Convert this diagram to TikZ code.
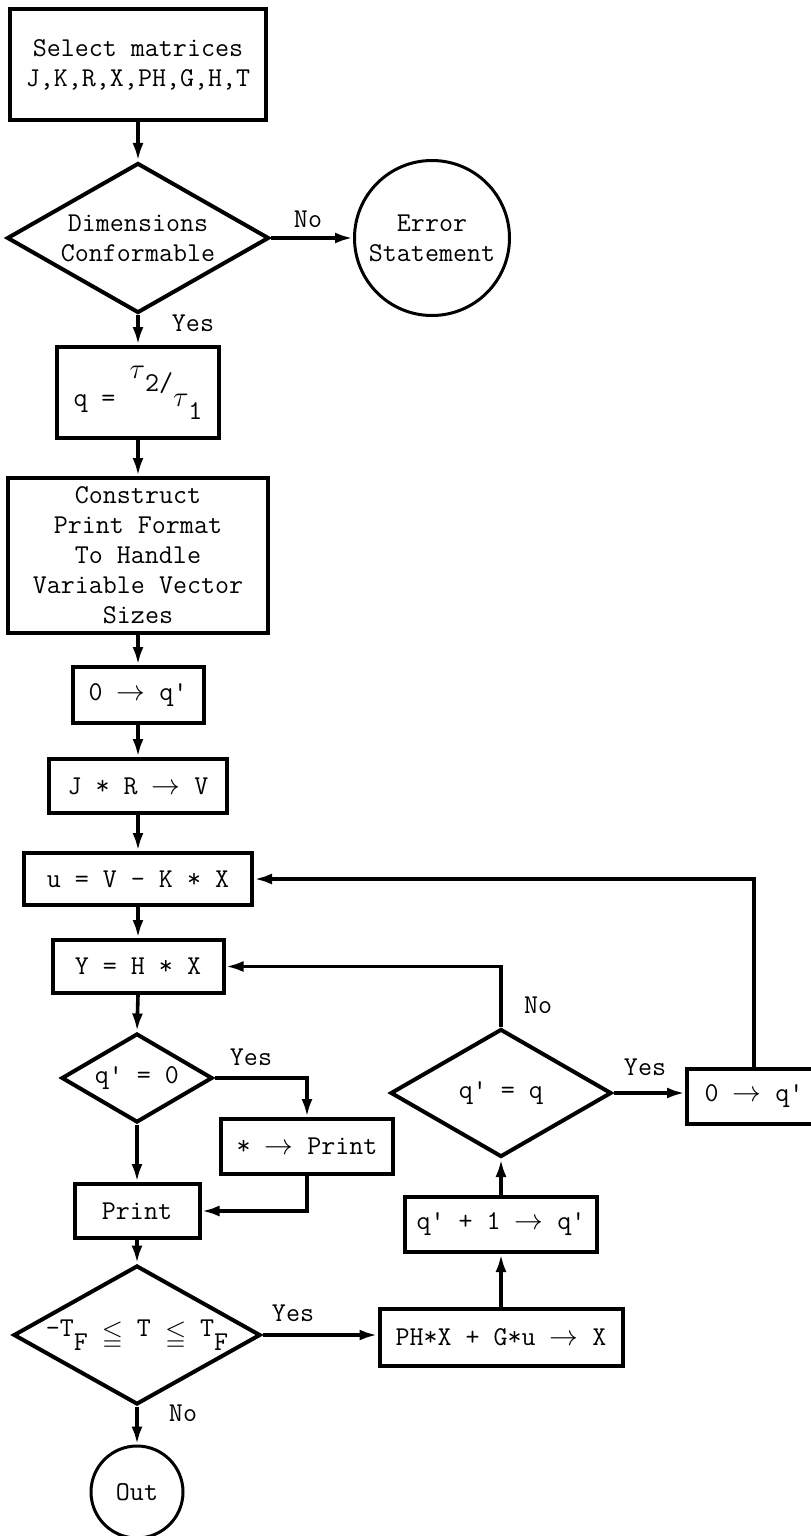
\documentclass[tikz,border=0pt]{standalone}
\usepackage{amsmath}
\usepackage{amssymb}
\usepackage{fontspec}
\usetikzlibrary{shapes.geometric,arrows.meta}

\newcommand{\Tick}{\textquotesingle}

\begin{document}
\begin{tikzpicture}[
        x=0.5pt, y=-0.5pt,
        font=\ttfamily\fontsize{13.6pt}{15pt}\selectfont,
        box/.style={draw, line width=2pt, inner sep=2pt, align=center},
        decision/.style={draw, diamond, line width=2pt, inner sep=0pt, align=center},
        terminal/.style={draw, circle, line width=1.5pt, inner sep=0pt, align=center},
        flow/.style={line width=1.8pt, -{Latex[length=9pt,width=5.5pt]}},
    ]
        \useasboundingbox (0, 0) rectangle (810, 1536);

        \node[box, minimum width=128pt, minimum height=55.5pt] (Select) at (138, 64.5) {Select matrices\\J,K,R,X,PH,G,H,T};
        \node[decision, shape aspect=1.75, minimum width=131pt, minimum height=75pt] (Dims) at (138, 238) {Dimensions\\Conformable};
        \node[terminal, minimum size=77.5pt] (Error) at (432, 238) {Error\\Statement};
        \node[box, minimum width=81pt, minimum height=45.5pt] (Ratio) at (138, 392.5)
            {q = \raisebox{14pt}{\(\tau\)}\raisebox{7.5pt}{2/}\raisebox{0pt}{\(\tau\)}\raisebox{-6.5pt}{1}};
        \node[box, minimum width=130pt, minimum height=77.5pt] (Format) at (138, 555.5)
            {Construct\\Print Format\\To Handle\\Variable Vector\\Sizes};
        \node[box, minimum width=65.5pt, minimum height=28pt] (ZeroQ) at (138, 695) {0 \(\rightarrow\) q\Tick};
        \node[box, minimum width=89pt, minimum height=27pt] (JR) at (138, 786) {J * R \(\rightarrow\) V};
        \node[box, minimum width=114pt, minimum height=26pt] (U) at (138, 879) {u = V - K * X};
        \node[box, minimum width=85.5pt, minimum height=26.5pt] (Y) at (138, 966.5) {Y = H * X};
        \node[decision, shape aspect=1.7, minimum width=75.5pt, minimum height=44.5pt] (QZero) at (137, 1078) {q\Tick{} = 0};
        \node[box, minimum width=86pt, minimum height=27.5pt] (Star) at (307, 1146.5) {* \(\rightarrow\) Print};
        \node[box, minimum width=62.5pt, minimum height=27pt] (Print) at (137, 1211) {Print};
        \node[decision, shape aspect=1.78, minimum width=123.5pt, minimum height=69.5pt] (Range) at (137, 1335)
            {-T\raisebox{-7pt}{F} \raisebox{-3pt}{\(\leqq\)} T \raisebox{-3pt}{\(\leqq\)} T\raisebox{-7pt}{F}};
        \node[terminal, minimum size=46pt] (Out) at (137, 1492) {Out};
        \node[box, minimum width=121.5pt, minimum height=28.5pt] (PH) at (501, 1337) {PH*X + G*u \(\rightarrow\) X};
        \node[box, minimum width=96pt, minimum height=27.5pt] (Count) at (501, 1224.5) {q\Tick{} + 1 \(\rightarrow\) q\Tick};
        \node[decision, shape aspect=1.73, minimum width=110.5pt, minimum height=64pt] (QEq) at (501, 1093) {q\Tick{} = q};
        \node[box, minimum width=67pt, minimum height=27.5pt] (Reset) at (754, 1096) {0 \(\rightarrow\) q\Tick};

        \node (NoDims) at (308, 219) {No};
        \node (YesDims) at (193, 323) {Yes};
        \node (YesZero) at (251, 1057) {Yes};
        \node (NoEq) at (538, 1005) {No};
        \node (YesEq) at (645, 1067) {Yes};
        \node (YesRange) at (293, 1313) {Yes};
        \node (NoRange) at (183, 1413) {No};

        \draw[flow] (Select.south) -- (Dims.north);
        \draw[flow] (Dims.east) -- (Error.west);
        \draw[flow] (Dims.south) -- (Ratio.north);
        \draw[flow] (Ratio.south) -- (Format.north);
        \draw[flow] (Format.south) -- (ZeroQ.north);
        \draw[flow] (ZeroQ.south) -- (JR.north);
        \draw[flow] (JR.south) -- (U.north);
        \draw[flow] (U.south) -- (Y.north);
        \draw[flow] (Y.south) -- (QZero.north);
        \draw[flow] (QZero.south) -- (Print.north);
        \draw[flow] (QZero.east) -| (Star.north);
        \draw[flow] (Star.south) |- (Print.east);
        \draw[flow] (Print.south) -- (Range.north);
        \draw[flow] (Range.south) -- (Out.north);
        \draw[flow] (Range.east) -- (Range.east -| PH.west);
        \draw[flow] (PH.north) -- (Count.south);
        \draw[flow] (Count.north) -- (QEq.south);
        \draw[flow] (QEq.east) -- (QEq.east -| Reset.west);
        \draw[flow] (QEq.north) |- (Y.east);
        \draw[flow] (Reset.north) |- (U.east);
    \end{tikzpicture}
\end{document}
